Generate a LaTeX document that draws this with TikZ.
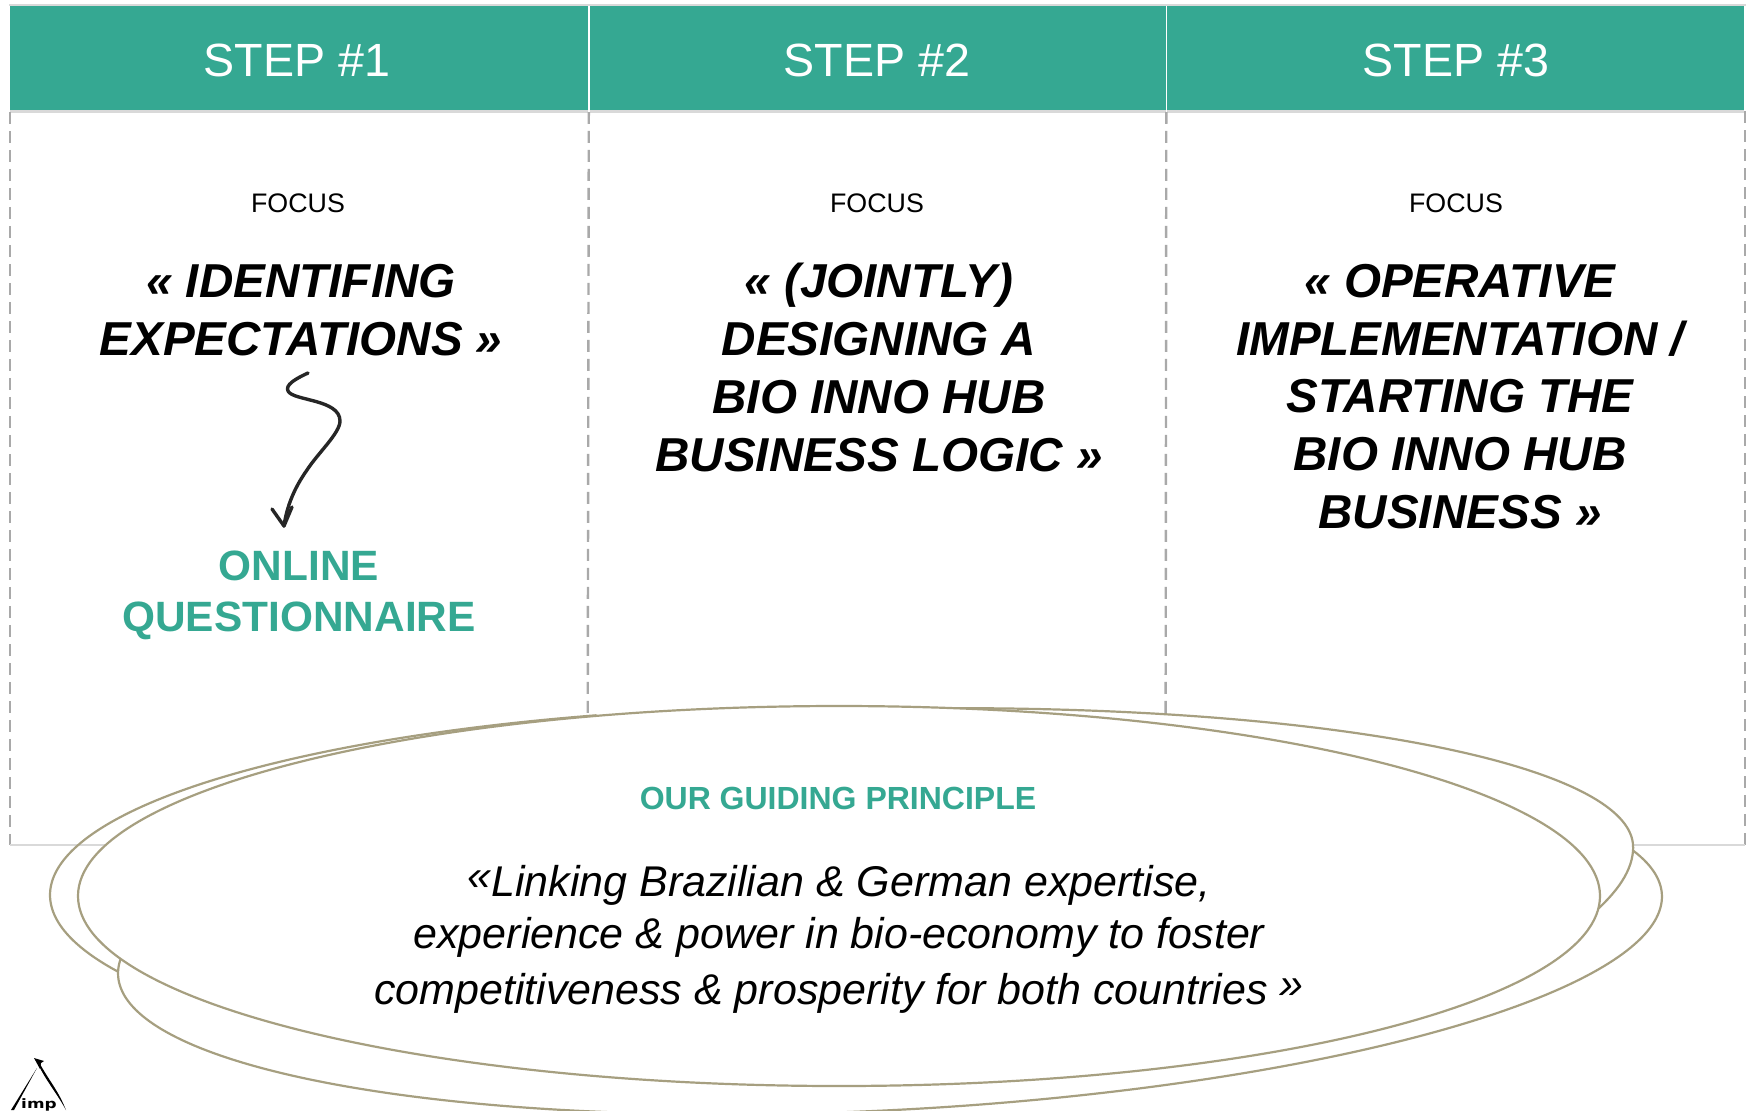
\documentclass[tikz,border=0pt]{standalone}
\usepackage{fontspec}
\setmainfont{Liberation Sans}
\newfontfamily\logofont{DejaVu Sans}
\definecolor{teal1}{HTML}{35A892}
\definecolor{olive1}{HTML}{A69F80}
\definecolor{dash1}{HTML}{A9A9A9}
\definecolor{rule1}{HTML}{D9D9D9}
\definecolor{ink1}{HTML}{262626}
\newcommand{\ellfill}[5]{\fill[white] plot[domain=0:360,samples=200,variable=\x] ({#1+#3*cos(\x)*cos(#5)-#4*sin(\x)*sin(#5)},{#2+#3*cos(\x)*sin(#5)+#4*sin(\x)*cos(#5)}) -- cycle;}
\newcommand{\ellarc}[7]{\draw[ellstroke] plot[domain=#6:#7,samples=200,variable=\x] ({#1+#3*cos(\x)*cos(#5)-#4*sin(\x)*sin(#5)},{#2+#3*cos(\x)*sin(#5)+#4*sin(\x)*cos(#5)});}
\tikzset{
  x=0.5pt,y=-0.5pt,
  headcell/.style={fill=teal1,minimum width=289pt,minimum height=52.5pt,inner sep=0pt,text=white,anchor=north west},
  headlabel/.style={text=white,font=\fontsize{23.3}{28}\selectfont,inner sep=0pt},
  focuslabel/.style={font=\fontsize{13.4}{16}\selectfont,text=black},
  titletext/.style={font=\fontsize{23.8}{28.9}\selectfont\bfseries\itshape,align=center,text=black,inner sep=0pt},
  greentext/.style={font=\fontsize{21.2}{25.5}\selectfont\bfseries,align=center,text=teal1,inner sep=0pt},
  colrule/.style={draw=dash1,line width=1.2pt,dash pattern=on 6pt off 3.5pt},
  hrule/.style={draw=rule1,line width=1.4pt},
  ellstroke/.style={draw=olive1,line width=1.1pt},
}
\begin{document}
\begin{tikzpicture}
\useasboundingbox (0,0) rectangle (1746,1110);
% header
\node[headcell] (h1) at (10,6) {};
\node[headcell] (h2) at (587.5,6) {};
\node[headcell] (h3) at (1165.5,6) {};
\node[headlabel] (s1) at (297,60) {STEP \#1};
\node[headlabel] (s2) at (877,60) {STEP \#2};
\node[headlabel] (s3) at (1456,60) {STEP \#3};
\coordinate (b0) at (10,845);
\coordinate (b1) at (587.5,845);
\coordinate (b2) at (1165.5,845);
\coordinate (b3) at (1745,845);
\coordinate (t3) at (1745,111);
\draw[hrule] (9,5) -- (1746,5);
\draw[hrule] (h1.south west) -- (h3.south east);
\draw[colrule] (h1.south west) -- (b0);
\draw[colrule] (h1.south east) -- (b1);
\draw[colrule] (h2.south east) -- (b2);
\draw[colrule] (t3) -- (b3);
\draw[hrule] (b0) -- (b3);
\draw[white,line width=0.8pt] (h1.north east) -- (h1.south east);
\draw[white,line width=0.8pt] (h2.north east) -- (h2.south east);
% focus
\node[focuslabel] (f1) at (298,203) {FOCUS};
\node[focuslabel] (f2) at (877,203) {FOCUS};
\node[focuslabel] (f3) at (1456,203) {FOCUS};
\node[titletext] (t1) at (301,310) {« IDENTIFING\\EXPECTATIONS »};
\node[titletext] (t2) at (879,367.5) {« (JOINTLY)\\DESIGNING A\\BIO INNO HUB\\BUSINESS LOGIC »};
\node[titletext] (tt3) at (1460,396.5) {« OPERATIVE\\IMPLEMENTATION /\\STARTING THE\\BIO INNO HUB\\BUSINESS »};
\node[greentext] (online) at (299,595.5) {ONLINE\\QUESTIONNAIRE};
% hand-drawn arrow
\coordinate (as) at (308,373);
\coordinate (ae) at (284,526);
\draw[ink1,line width=1.7pt,line cap=round,line join=round]
  (as) .. controls (295,379) and (285,385) .. (288,391)
  .. controls (293,401) and (340,399) .. (340,421)
  .. controls (340,433) and (318,453) .. (307,470)
  .. controls (295,487) and (287,505) .. (ae);
\draw[ink1,line width=1.7pt,line cap=round,line join=round]
  (272,509) -- (ae) -- (292,507);
% ellipses
\begin{scope}
  \clip (841,0) rectangle (1746,1110);
  \ellfill{841.5}{871}{792}{161}{-1.81}
  \ellfill{890}{935}{773}{175}{-3}
\end{scope}
\ellarc{841}{895}{791}{189}{0}{156}{252}
\ellarc{890}{935}{773}{175}{-3}{-15}{190}
\ellarc{841.5}{871}{792}{161}{-1.81}{262}{360.37}
\coordinate (bR) at (1633.2,847);
\coordinate (bE) at (1590,916);
\draw[ellstroke] (bR) .. controls (1633,870) and (1618,892) .. (bE);
\draw[ellstroke,fill=white] (839,896) ellipse [x radius=761,y radius=190];
\node[font=\fontsize{16}{19}\selectfont\bfseries,text=teal1] (guide) at (838,798) {OUR GUIDING PRINCIPLE};
\node[font=\fontsize{21.5}{27}\selectfont\itshape,align=center,text=black,inner sep=0pt] (quote) at (839,939)
  {\raisebox{3pt}{«}Linking Brazilian \& German expertise,\\[-1pt]experience \& power in bio-economy to foster\\[1pt]competitiveness \& prosperity for both countries \raisebox{3pt}{»}};
% logo
\node[font=\logofont\bfseries\fontsize{6.5}{8}\selectfont,inner sep=0pt,anchor=base] (imp) at (39,1108) {\scalebox{1.3}[1]{imp}};
\coordinate (lgA) at (37,1068);
\coordinate (lgB) at (11,1110);
\coordinate (lgC) at (66,1110);
\coordinate (lgD) at (40,1064);
\coordinate (lgT) at (34,1058);
\fill[black] (lgA) -- (lgB) -- (14,1110) -- cycle;
\fill[black] (lgC) .. controls (58,1090) and (50,1082) .. (lgD) -- (39,1066) .. controls (47,1082) and (56,1092) .. cycle;
\fill[black] (lgT) -- (44,1061) -- (41,1063) -- (40,1069) -- cycle;
\end{tikzpicture}
\end{document}
